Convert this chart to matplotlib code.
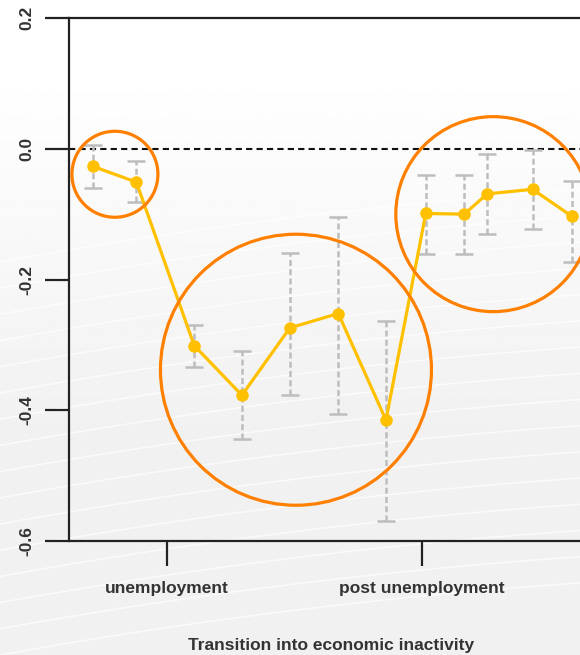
import matplotlib
matplotlib.use('Agg')
import matplotlib.pyplot as plt
import numpy as np

plt.rcParams['font.family'] = ['Liberation Sans', 'DejaVu Sans']

# position on the time axis (ticks: unemployment = 0, post unemployment = 10)
x = [-2.9, -1.2, 1.07, 2.94, 4.82, 6.72, 8.59, 10.15, 11.66, 12.56, 14.34, 15.87]
effect = [-0.027, -0.051, -0.301, -0.377, -0.274, -0.252, -0.415, -0.099, -0.100, -0.069, -0.062, -0.103]
ci_upper = [0.005, -0.018, -0.269, -0.310, -0.159, -0.104, -0.263, -0.040, -0.040, -0.008, -0.002, -0.050]
ci_lower = [-0.060, -0.081, -0.334, -0.444, -0.376, -0.405, -0.569, -0.161, -0.161, -0.130, -0.123, -0.173]

tick_pos = [0, 10]
tick_labels = ['unemployment', 'post unemployment']
yticks = [-0.6, -0.4, -0.2, 0.0, 0.2]

# highlight circles: centre in data units, radius in pixels
circle_x = [-2.04, 5.06, 12.8]
circle_y = [-0.039, -0.338, -0.100]
circle_r = [43, 135.5, 97.5]

fig = plt.figure(figsize=(5.8, 6.55), dpi=100)

# soft grey background with faint white streaks
bg = fig.add_axes([0, 0, 1, 1], zorder=-10)
grad = np.linspace(1.0, 0.0, 300)
shade = np.clip((grad - 0.35) / 0.55, 0, 1)
img = 0.945 + 0.055 * shade
bg.imshow(img[:, None], cmap='gray', vmin=0, vmax=1, aspect='auto', extent=[0, 1, 0, 1])
xx = np.linspace(0, 1, 200)
for k in range(16):
    bg.plot(xx, 0.0 + k * 0.04 + 0.16 * xx - 0.05 * xx ** 2, color='white', lw=1.1, alpha=0.7)
bg.set_xlim(0, 1)
bg.set_ylim(0, 1)
bg.axis('off')

ax = fig.add_axes([0.119, 0.174, 0.903, 0.7985])
ax.patch.set_alpha(0)

ax.axhline(0, color='#111111', lw=1.5, ls=(0, (3, 2)), zorder=1)

yerr = [np.array(effect) - np.array(ci_lower), np.array(ci_upper) - np.array(effect)]
eb = ax.errorbar(x, effect, yerr=yerr, fmt='none', ecolor='#bdbdbd', elinewidth=1.8,
                 capsize=6.5, capthick=1.8, zorder=2)
eb[2][0].set_linestyle((0, (2.4, 1.3)))

ax.plot(x, effect, color='#FFC000', lw=2.3, marker='o', ms=8, zorder=3)

sizes = [(2 * r * 72 / 100) ** 2 for r in circle_r]
ax.scatter(circle_x, circle_y, s=sizes, facecolors='none', edgecolors='#FF8000',
           linewidths=2.3, zorder=4, clip_on=False)

ax.set_xlim(-3.84, 16.7)
ax.set_ylim(-0.6, 0.2)
ax.set_yticks(yticks)
ax.set_yticklabels(['%.1f' % v for v in yticks], rotation=90, va='center')
ax.set_xticks(tick_pos)
ax.set_xticklabels(tick_labels)

for side in ['left', 'top', 'bottom']:
    ax.spines[side].set_color('#222222')
    ax.spines[side].set_linewidth(1.6)
ax.spines['right'].set_visible(False)

ax.tick_params(axis='y', direction='out', length=17, width=1.6, color='#222222',
               labelsize=12.5, pad=8, labelcolor='#333333')
ax.tick_params(axis='x', direction='out', length=18, width=1.6, color='#222222',
               labelsize=12.5, pad=11, labelcolor='#333333')
for lab in ax.get_xticklabels() + ax.get_yticklabels():
    lab.set_fontweight('bold')

ax.set_xlabel('Transition into economic inactivity', fontsize=12.5, fontweight='bold',
              color='#333333', labelpad=30)

fig.savefig('out.png', dpi=100)
